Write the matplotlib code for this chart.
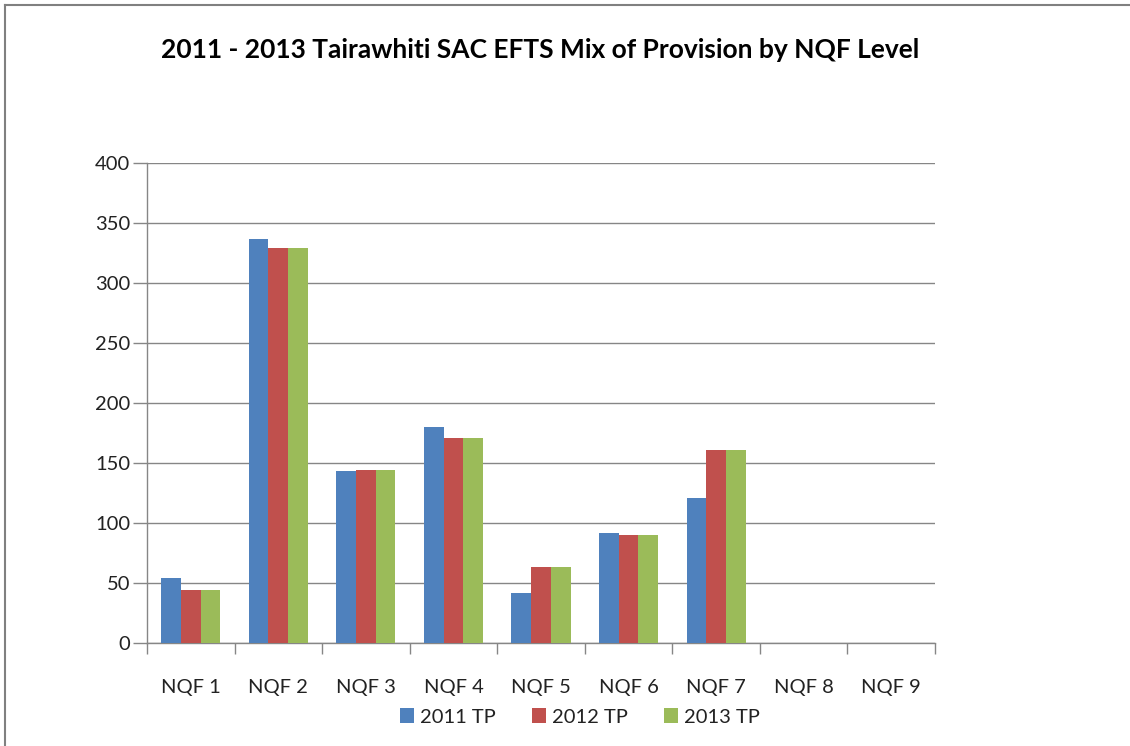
import numpy as np
import matplotlib.pyplot as plt
from matplotlib.lines import Line2D

plt.rcParams['font.family'] = ['Lato', 'DejaVu Sans']

categories = ['NQF 1', 'NQF 2', 'NQF 3', 'NQF 4', 'NQF 5', 'NQF 6', 'NQF 7', 'NQF 8', 'NQF 9']
tp_2011 = [54, 337, 143, 180, 42, 92, 121, 0, 0]
tp_2012 = [44, 329, 144, 171, 63, 90, 161, 0, 0]
tp_2013 = [44, 329, 144, 171, 63, 90, 161, 0, 0]
series = [('2011 TP', tp_2011, '#4f81bd'),
          ('2012 TP', tp_2012, '#c0504d'),
          ('2013 TP', tp_2013, '#9bbb59')]

fig = plt.figure(figsize=(11.3, 7.46), dpi=100)
ax = fig.add_axes([147 / 1130, 1 - 643 / 746, 788 / 1130, 480 / 746])

x = np.arange(len(categories))
w = 0.225
for i, (name, vals, col) in enumerate(series):
    ax.bar(x + (i - 1) * w, vals, width=w, color=col, label=name, zorder=3)

ax.set_xlim(-0.5, len(categories) - 0.5)
ax.set_ylim(0, 400)
ax.set_yticks(np.arange(0, 401, 50))
ax.yaxis.grid(True, color='#868686', linewidth=1, zorder=0)

# category labels centred, tick marks on the category boundaries
ax.set_xticks(x)
ax.set_xticklabels(categories)
ax.tick_params(axis='x', length=0, pad=26, labelsize=14.5, labelcolor='#222222')
ax.set_xticks(np.arange(-0.5, len(categories)), minor=True)
ax.tick_params(axis='x', which='minor', length=8, color='#868686', width=1)
ax.tick_params(axis='y', length=10, color='#868686', width=1, pad=2,
               labelsize=14.5, labelcolor='#222222')

for s in ['top', 'right']:
    ax.spines[s].set_visible(False)
for s in ['left', 'bottom']:
    ax.spines[s].set_color('#868686')
    ax.spines[s].set_linewidth(1)

fig.text(540 / 1130, 1 - 50 / 746, '2011 - 2013 Tairawhiti SAC EFTS Mix of Provision by NQF Level',
         ha='center', va='center', fontsize=19, fontweight='bold', color='black')

fig.legend(loc='center', bbox_to_anchor=(580 / 1130, 1 - 717 / 746), ncol=3, frameon=False,
           fontsize=14.5, handlelength=0.7, handleheight=0.7, handletextpad=0.3,
           columnspacing=1.8, labelcolor='#222222')

# outer chart border
fig.add_artist(Line2D([5 / 1130, 5 / 1130], [0, 1 - 5 / 746], transform=fig.transFigure,
                      color='#808080', linewidth=1.5))
fig.add_artist(Line2D([5 / 1130, 1], [1 - 5 / 746, 1 - 5 / 746], transform=fig.transFigure,
                      color='#808080', linewidth=1.5))

fig.savefig('out.png', dpi=100)
